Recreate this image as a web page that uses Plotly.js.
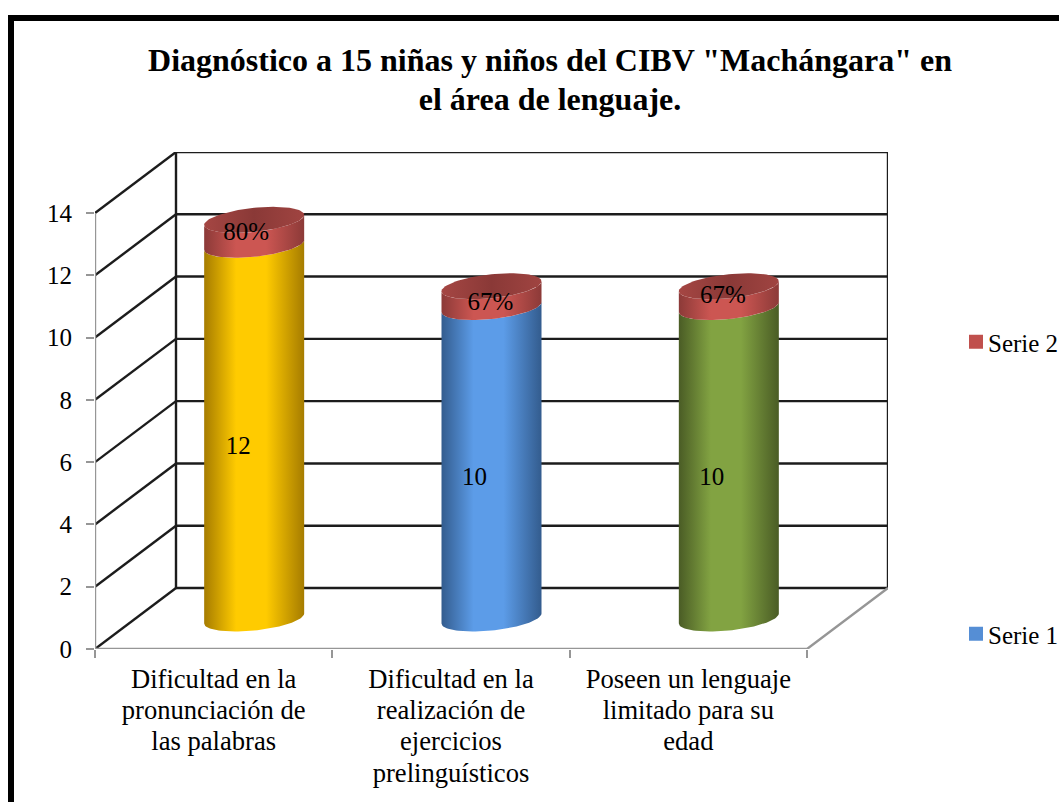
<!DOCTYPE html>
<html>
<head>
<meta charset="utf-8">
<script src="https://cdn.plot.ly/plotly-3.0.1.min.js"></script>
<style>html,body{margin:0;padding:0;background:#fff;overflow:hidden}#chart{width:1059px;height:802px}</style>
</head>
<body>
<div id="chart"></div>
<script>
// ---- data ----
const titleLines = ['Diagnóstico a 15 niñas y niños del CIBV "Machángara" en', 'el área de lenguaje.'];
const categories = [
  ['Dificultad en la', 'pronunciación de', 'las palabras'],
  ['Dificultad en la', 'realización de', 'ejercicios', 'prelinguísticos'],
  ['Poseen un lenguaje', 'limitado para su', 'edad']
];
const serie1 = [12, 10, 10];
const serie2 = [0.8, 0.67, 0.67];
const serie1Labels = ['12', '10', '10'];
const serie2Labels = ['80%', '67%', '67%'];
const yTicks = [0, 2, 4, 6, 8, 10, 12, 14];

// ---- styling / geometry ----
const L = 95, R = 888, T = 152, B = 649, W = 1059, H = 802;
const depthX = 81 / ((R - L - 81) / 3);         // depth in category units
const yTop = 14 * (B - T) / (B - 213);          // axis top incl. depth
const pxX = (R - L) / (3 + depthX), pxY = (B - T) / yTop;
const depthY = yTop - 14;
const FONT = '"Liberation Serif", "Times New Roman", serif';
const GRID = '#1c1c1c', AXIS = '#969696';
const ramp = (e, c) => [[0, e], [0.32, c], [0.62, c], [1, e]];
const bodyRamps = [ramp('#a67c00', '#ffcb00'), ramp('#335c8e', '#5c9ce8'), ramp('#4a5c25', '#82a342')];
const redRamp = ramp('#8c3a38', '#cc5652');
const capRamp = [[0, '#a54643'], [0.5, '#8a3937'], [1, '#a04441']];
const rx = 50 / pxX, ry = 12 / pxY, tilt = 5 / pxY;
const sized = (lines, px) => lines.map(l => '<span style="font-size:' + px + 'px">' + l + '</span>').join('<br>');

// helpers for the walls
const walls = {x: [], y: []};
const seg = (x0, y0, x1, y1) => { walls.x.push(x0, x1, null); walls.y.push(y0, y1, null); };
yTicks.forEach(v => {
  seg(0, v, depthX, v + depthY);                     // left wall diagonal
  seg(depthX, v + depthY, 3 + depthX, v + depthY);   // back wall line
});
seg(depthX, depthY, depthX, 14 + depthY);
seg(3 + depthX, depthY, 3 + depthX, 14 + depthY);

const traces = [];
traces.push({x: walls.x, y: walls.y, mode: 'lines', line: {color: GRID, width: 2.4}, cliponaxis: false, showlegend: false, hoverinfo: 'skip'});
traces.push({x: [0, 0, null, 0, 3, depthX + 3], y: [14, 0, null, 0, 0, depthY], mode: 'lines', line: {color: AXIS, width: 2.4}, cliponaxis: false, showlegend: false, hoverinfo: 'skip'});

// cylinder geometry: band between two levels and a full cap
const steps = Array.from({length: 49}, (_, i) => i / 48);
const lowerArc = (cx, v, rev) => {
  const pts = steps.map(s => {
    const t = Math.PI * s;               // left to right through the front
    return [cx - rx * Math.cos(t), v - ry * Math.sin(t) - tilt * Math.cos(t)];
  });
  return rev ? pts.reverse() : pts;
};
const fillTrace = (p, scale) => traces.push({x: p.map(a => a[0]), y: p.map(a => a[1]), mode: 'lines', fill: 'toself', line: {width: 0}, fillcolor: 'rgba(0,0,0,0)',
  fillgradient: {type: 'horizontal', colorscale: scale}, showlegend: false, hoverinfo: 'skip'});
const band = (cx, v0, v1, scale) => {
  const p = lowerArc(cx, v0, false).concat(lowerArc(cx, v1, true));
  p.push(p[0]);
  fillTrace(p, scale);
};
const cap = (cx, v, scale) => {
  const p = Array.from({length: 97}, (_, i) => {
    const t = 2 * Math.PI * i / 96;
    return [cx - rx * Math.cos(t), v - ry * Math.sin(t) - tilt * Math.cos(t)];
  });
  fillTrace(p, scale);
};
const centers = categories.map((_, i) => i + 0.5 + depthX / 2);
const base = depthY / 2;
categories.forEach((_, i) => {
  band(centers[i], base, base + serie1[i], bodyRamps[i]);
  band(centers[i], base + serie1[i], base + serie1[i] + serie2[i], redRamp);
  cap(centers[i], base + serie1[i] + serie2[i], capRamp);
});

// data labels (offsets in px from the middle of each segment)
const off1 = [[-16, -16], [-17, -16], [-17, -16]];
const off2 = [[-8, -1], [-1, -7], [-6, 0]];
traces.push({
  x: centers.map((c, i) => c + off1[i][0] / pxX), y: serie1.map((v, i) => base + v / 2 + off1[i][1] / pxY),
  text: serie1Labels, mode: 'text', textposition: 'middle center', textfont: {family: FONT, size: 25, color: '#000'}, cliponaxis: false, showlegend: false, hoverinfo: 'skip'});
traces.push({
  x: centers.map((c, i) => c + off2[i][0] / pxX), y: serie2.map((v, i) => base + serie1[i] + v / 2 + off2[i][1] / pxY),
  text: serie2Labels, mode: 'text', textposition: 'middle center', textfont: {family: FONT, size: 25, color: '#000'}, cliponaxis: false, showlegend: false, hoverinfo: 'skip'});

// legend entries
traces.push({x: [null], y: [null], name: 'Serie 2', mode: 'markers', marker: {symbol: 'square', size: 14, color: '#c0504d'}, legend: 'legend', showlegend: true});
traces.push({x: [null], y: [null], name: 'Serie 1', mode: 'markers', marker: {symbol: 'square', size: 14, color: '#558ed5'}, legend: 'legend2', showlegend: true});

const legendBase = {xanchor: 'left', yanchor: 'middle', bgcolor: 'rgba(0,0,0,0)', borderwidth: 0, font: {family: FONT, size: 25, color: '#000'}, itemwidth: 30, itemclick: false, itemdoubleclick: false};

const layout = {
  width: W, height: H,
  paper_bgcolor: '#fff', plot_bgcolor: 'rgba(0,0,0,0)',
  margin: {l: L, r: W - R, t: T, b: H - B, autoexpand: false, pad: 0},
  font: {family: FONT, color: '#000'},
  title: {text: sized(titleLines, 32), font: {family: FONT, size: 30, color: '#000', weight: 'bold'}, x: 550 / W, xanchor: 'center', y: 1 - 71 / H, yanchor: 'middle', yref: 'container'},
  xaxis: {range: [0, 3 + depthX], tickmode: 'array', tickvals: categories.map((_, i) => i + 0.5), ticktext: categories.map(c => sized(c, 26.6)),
    showgrid: false, zeroline: false, showline: false, ticks: '', tickangle: 0, tickfont: {family: FONT, size: 24, color: '#000'}, ticklabelstandoff: 14,
    minor: {tickmode: 'array', tickvals: [0, 1, 2, 3], ticks: 'outside', ticklen: 8, tickwidth: 2, tickcolor: AXIS, showgrid: false}},
  yaxis: {range: [0, yTop], tickmode: 'array', tickvals: yTicks, ticktext: yTicks.map(String),
    showgrid: false, zeroline: false, showline: false, ticks: 'outside', ticklen: 8, tickwidth: 2, tickcolor: AXIS, tickfont: {family: FONT, size: 25, color: '#000'}, ticklabelstandoff: 9},
  legend: Object.assign({x: (956 - L) / (R - L), y: (B - 342) / (B - T)}, legendBase),
  legend2: Object.assign({x: (956 - L) / (R - L), y: (B - 634) / (B - T)}, legendBase),
  shapes: [{type: 'rect', xref: 'paper', yref: 'paper', x0: (11 - L) / (R - L), x1: (1100 - L) / (R - L), y0: (B - 900) / (B - T), y1: (B - 18) / (B - T), line: {color: '#000', width: 6}, fillcolor: 'rgba(0,0,0,0)', layer: 'above'}],
  showlegend: true
};
const chartDiv = document.getElementById('chart');
Plotly.newPlot(chartDiv, traces, layout, {displayModeBar: false, staticPlot: true}).then(() => {
  // tighten the gap between legend swatch and its text
  chartDiv.querySelectorAll('.legendtext, .legend2text').forEach(t => t.setAttribute('x', '32'));
});
</script>
</body>
</html>
